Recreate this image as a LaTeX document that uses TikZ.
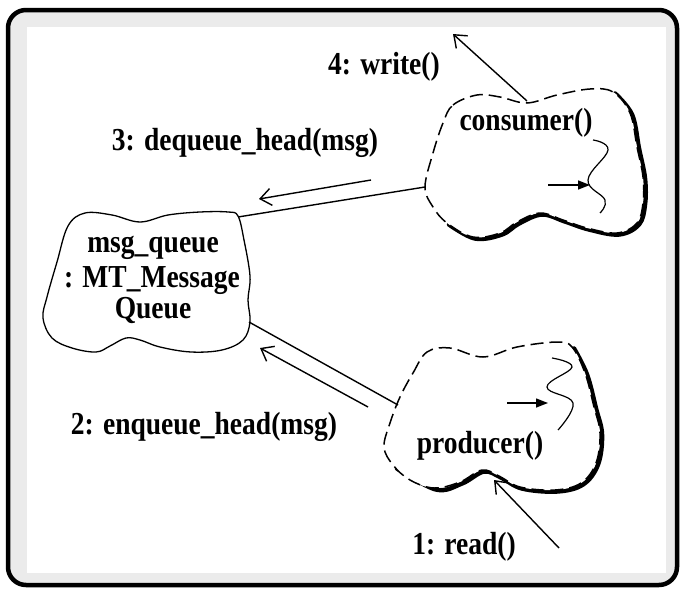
\documentclass[tikz,border=0pt]{standalone}
\usepackage{fontspec}
\newfontfamily\lblfont{Liberation Serif}[FakeStretch=0.86]
\usetikzlibrary{arrows.meta}
\definecolor{framegrey}{RGB}{235,235,235}
\begin{document}
\begin{tikzpicture}[x=1pt,y=-1pt,
  lbl/.style={font=\lblfont\bfseries\fontsize{32}{35}\selectfont, inner sep=0pt, anchor=base},
  conn/.style={line width=1.4pt},
  msgarrow/.style={line width=1.4pt, -{Straight Barb[length=11pt,width=17pt,line width=1.4pt]}},
  flowarrow/.style={line width=1.4pt, -{Triangle[length=12pt,width=9pt]}},
  cloudline/.style={line width=1.3pt, line join=round},
  dashcloud/.style={line width=1.5pt, dash pattern=on 13pt off 6pt, line join=round},
  shadowline/.style={line width=4.5pt, line cap=round, line join=round},
  squig/.style={line width=1.2pt}
]
\useasboundingbox (0,0) rectangle (680,589);
% frame
\draw[line width=4.5pt, fill=framegrey, rounded corners=18pt] (8,10) rectangle (677,585);
\fill[white] (27,27) rectangle (666,573);

% msg_queue cloud
\draw[cloudline, fill=white] plot[smooth cycle, tension=0.6] coordinates {
 (68,226) (85,213) (112,215) (140,222) (168,215) (200,212) (228,212) (238,216)
 (244,240) (250,276) (248,300) (250,322) (243,340) (222,350) (191,352) (160,347)
 (140,340) (126,338) (110,346) (96,352) (72,348) (52,338) (43,318) (47,297) (57,262)};
\node[lbl] (mq1) at (153,252) {msg\_queue};
\node[lbl] (mq2) at (152,287) {: MT\_Message};
\node[lbl] (mq3) at (153,318) {Queue};

% consumer cloud (active object)
\draw[shadowline, shift={(2,1.5)}] plot[smooth, tension=0.6] coordinates {
 (613,92) (630,113) (637,147) (643,177) (643,203) (637,223) (617,233) (587,228)
 (563,220) (540,213) (517,222) (500,233) (473,237) (447,223)};
\draw[dashcloud, fill=white] plot[smooth cycle, tension=0.6] coordinates {
 (443,123) (453,105) (477,95) (500,97) (527,103) (557,95) (590,89) (613,92)
 (630,113) (637,147) (643,177) (643,203) (637,223) (617,233) (587,228) (563,220)
 (540,213) (517,222) (500,233) (473,237) (447,223) (433,207) (425,187) (433,153)};
\node[lbl] (consumer) at (526,130) {consumer()};
\draw[squig] plot[smooth, tension=0.7] coordinates {(593,140) (608,150) (588,180) (605,200) (600,213)};
\coordinate (cfs) at (548,185);
\coordinate (cft) at (590,185);
\draw[flowarrow] (cfs) -- (cft);

% producer cloud (active object)
\draw[shadowline, shift={(2,1.5)}] plot[smooth, tension=0.6] coordinates {
 (572,347) (585,373) (594,407) (600,433) (596,463) (581,483) (555,490) (520,487)
 (499,476) (482,470) (460,482) (434,488) (395,467)};
\draw[dashcloud, fill=white] plot[smooth cycle, tension=0.6] coordinates {
 (400,397) (413,373) (427,352) (450,348) (483,357) (517,347) (557,342) (572,347)
 (585,373) (594,407) (600,433) (596,463) (581,483) (555,490) (520,487) (499,476)
 (482,470) (460,482) (434,488) (410,480) (393,465) (384,447) (390,423)};
\node[lbl] (producer) at (480,453) {producer()};
\draw[squig] plot[smooth, tension=0.7] coordinates {(552,358) (572,367) (547,387) (573,403) (558,430)};
\coordinate (pfs) at (507,403);
\coordinate (pft) at (548,403);
\draw[flowarrow] (pfs) -- (pft);

% links
\coordinate (cLeft) at (425,187);
\coordinate (qTop) at (238,217);
\coordinate (pLeft) at (398,405);
\coordinate (qBot) at (249,322);
\draw[conn] (cLeft) -- (qTop);
\draw[conn] (pLeft) -- (qBot);

% messages
\coordinate (wS) at (527,101);
\coordinate (wT) at (453,34);
\draw[msgarrow] (wS) -- (wT);
\node[lbl] (write) at (384,74) {4: write()};

\coordinate (dS) at (371,180);
\coordinate (dT) at (259,199);
\draw[msgarrow] (dS) -- (dT);
\node[lbl] (deq) at (245,150) {3: dequeue\_head(msg)};

\coordinate (eS) at (368,407);
\coordinate (eT) at (260,348);
\draw[msgarrow] (eS) -- (eT);
\node[lbl] (enq) at (204,434) {2: enqueue\_head(msg)};

\coordinate (rS) at (559,548);
\coordinate (rT) at (494,480);
\draw[msgarrow] (rS) -- (rT);
\node[lbl] (read) at (464,554) {1: read()};
\end{tikzpicture}
\end{document}
